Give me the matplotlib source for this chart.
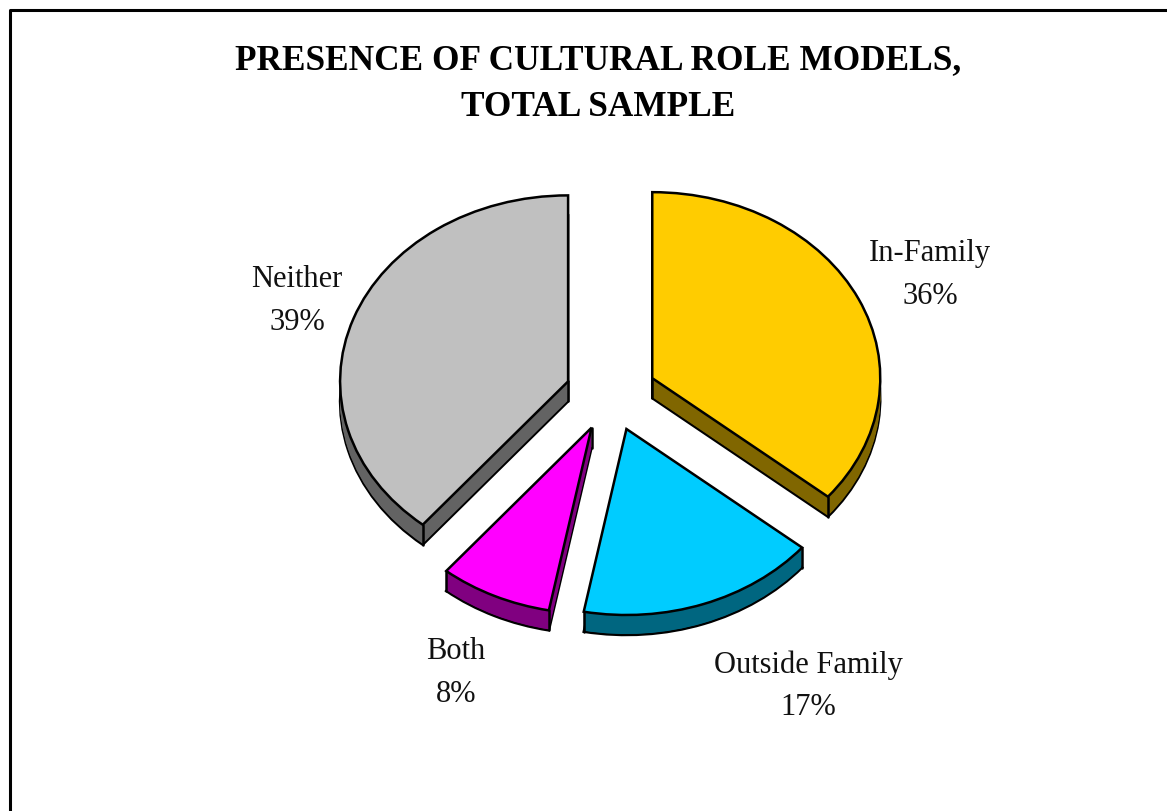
import matplotlib
matplotlib.use("Agg")
import matplotlib.pyplot as plt
import numpy as np

# Share of respondents by role-model source
categories = ["In-Family", "Outside Family", "Both", "Neither"]
shares = [36, 17, 8, 39]
top_colors = ["#FFCC00", "#00CCFF", "#FF00FF", "#C0C0C0"]
side_colors = ["#806600", "#006680", "#800080", "#636363"]
title_lines = "PRESENCE OF CULTURAL ROLE MODELS,\nTOTAL SAMPLE"

W, H = 1167, 811
fig = plt.figure(figsize=(W / 100, H / 100), dpi=100, facecolor="white")
ax = fig.add_axes([0, 0, 1, 1])

# Pie centre and radii in pixels: the flattened ellipse gives the tilted look
CX, CY = 611, 394
RX, RY = 228, 186
DEPTH = 20 / RY
EXPLODE = [0.2] * len(shares)
EDGE = 1.8
serif = "Liberation Serif"
pie_args = dict(explode=EXPLODE, startangle=90, counterclock=False, radius=1, frame=False)

# Extruded body: stacked copies of the pie shifted downward, with an outline on the lowest
steps = np.linspace(DEPTH, 0, 21)
ax.pie(shares, colors=side_colors, center=(0, -DEPTH),
       wedgeprops=dict(edgecolor="black", linewidth=EDGE), **pie_args)
for d in steps[1:-1]:
    ax.pie(shares, colors=side_colors, center=(0, -d),
           wedgeprops=dict(linewidth=0), **pie_args)

# Top face; vertical edges run down from the apex and from the lower rim corners
top, _ = ax.pie(shares, colors=top_colors, center=(0, 0),
                wedgeprops=dict(edgecolor="black", linewidth=EDGE, zorder=5), **pie_args)
for w in top:
    cx, cy = w.center
    corners = [(cx, cy)]
    for th in (w.theta1, w.theta2):
        if np.sin(np.radians(th)) < 0:
            corners.append((cx + w.r * np.cos(np.radians(th)), cy + w.r * np.sin(np.radians(th))))
    for x, y in corners:
        ax.plot([x, x], [y, y - DEPTH], color="black", lw=EDGE, zorder=4, solid_capstyle="round")

ax.set_aspect("auto")
ax.set_xlim((0 - CX) / RX, (W - CX) / RX)
ax.set_ylim((CY - H) / RY, CY / RY)
ax.axis("off")


def to_fig(px, py):
    return px / W, 1 - py / H


# Slice labels
label_pos = [(930, 275), (808, 686), (456, 673), (297, 301)]
for name, share, (px, py) in zip(categories, shares, label_pos):
    fx, fy = to_fig(px, py)
    fig.text(fx, fy, f"{name}\n{share}%", ha="center", va="center", family=serif,
             fontsize=22, color="#111111", linespacing=1.6)

# Title
fx, fy = to_fig(598.5, 84)
fig.text(fx, fy, title_lines, ha="center", va="center", family=serif, fontweight="bold",
         fontsize=25.4, color="black", linespacing=1.52)

# Chart frame, open at the bottom and right edges of the canvas
frame_x = [to_fig(9.5, 0)[0], to_fig(9.5, 0)[0], 1.0]
frame_y = [0.0, to_fig(0, 9.5)[1], to_fig(0, 9.5)[1]]
fig.add_artist(plt.Line2D(frame_x, frame_y, color="black", lw=2.2, transform=fig.transFigure))

fig.savefig("out.png", dpi=100)
